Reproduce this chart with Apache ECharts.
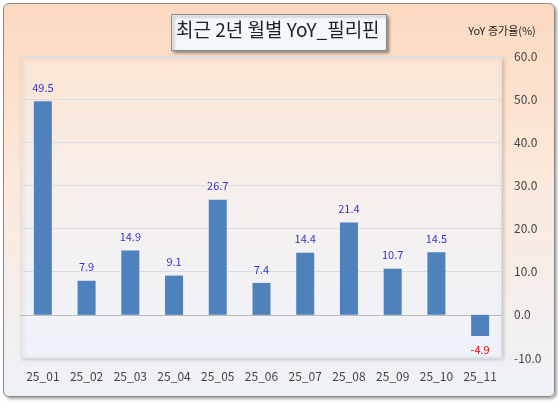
<!DOCTYPE html>
<html><head><meta charset="utf-8">
<script src="https://cdn.jsdelivr.net/npm/echarts@6/dist/echarts.min.js"></script>
<style>html,body{margin:0;padding:0;background:#fff}
#c{width:550px;height:392px;position:absolute;left:3px;top:3px;border:1px solid #8a8a8a;border-radius:6px;
background:linear-gradient(to bottom,#fbd9bf 0%,#fbe9dc 45%,#eef2f8 100%);box-shadow:2px 2px 3px rgba(0,0,0,0.35)}
</style></head><body><div id="c"></div>
<script>
const categories=['25_01','25_02','25_03','25_04','25_05','25_06','25_07','25_08','25_09','25_10','25_11'];
const values=[49.5,7.9,14.9,9.1,26.7,7.4,14.4,21.4,10.7,14.5,-4.9];
const yTicks={min:-10,max:60,interval:10};
const chart=echarts.init(document.getElementById('c'));
const font='"Noto Sans CJK KR","Noto Sans",sans-serif';
chart.setOption({
 animation:false,
 graphic:[
  {type:'rect',left:17,top:53,shape:{width:480,height:300},style:{fill:new echarts.graphic.LinearGradient(0,0,0,1,[{offset:0,color:'#fbe4d2'},{offset:0.5,color:'#f6f0ee'},{offset:1,color:'#eef3fa'}]),stroke:'#e4e4e4',shadowBlur:4,shadowColor:'rgba(0,0,0,0.2)',shadowOffsetX:1,shadowOffsetY:1},z:-1},
  {type:'rect',left:167,top:10,shape:{width:215,height:36},style:{fill:'#f3f8fb',stroke:'#8a8a8a',lineWidth:1,shadowBlur:3,shadowColor:'rgba(0,0,0,0.4)',shadowOffsetX:2,shadowOffsetY:2},z:5},
  {type:'text',left:172,top:16,style:{text:'최근 2년 월별 YoY_필리핀',font:'19px '+font,fill:'#222'},z:6}
 ],
 grid:{left:17,right:52,top:52,bottom:38},
 xAxis:{type:'category',data:categories,axisTick:{show:false},axisLine:{lineStyle:{color:'#bbb'}},
  axisLabel:{color:'#444',fontSize:12,fontFamily:font,margin:12}},
 yAxis:{type:'value',position:'right',min:yTicks.min,max:yTicks.max,interval:yTicks.interval,
  name:'YoY 증가율(%)',nameGap:20,nameTextStyle:{color:'#222',fontSize:11,fontFamily:font,align:'center',padding:[0,0,0,0]},
  axisLabel:{color:'#444',fontSize:12,fontFamily:font,margin:12,formatter:v=>v.toFixed(1)},
  splitLine:{lineStyle:{color:'#d8dde6'}},axisLine:{show:false},axisTick:{show:false}},
 series:[{type:'bar',data:values,barWidth:18,itemStyle:{color:'#4f81bd'},
  label:{show:true,fontSize:11,fontFamily:font,distance:8,
   formatter:p=>p.value.toFixed(1),
   position:'top',color:'#3333cc'},
  labelLayout:null,
  }]
});
const opt=chart.getOption();
opt.series[0].data=values.map(v=>v<0?{value:v,label:{position:'bottom',color:'#e00000'}}:v);
chart.setOption({series:opt.series});
</script></body></html>
